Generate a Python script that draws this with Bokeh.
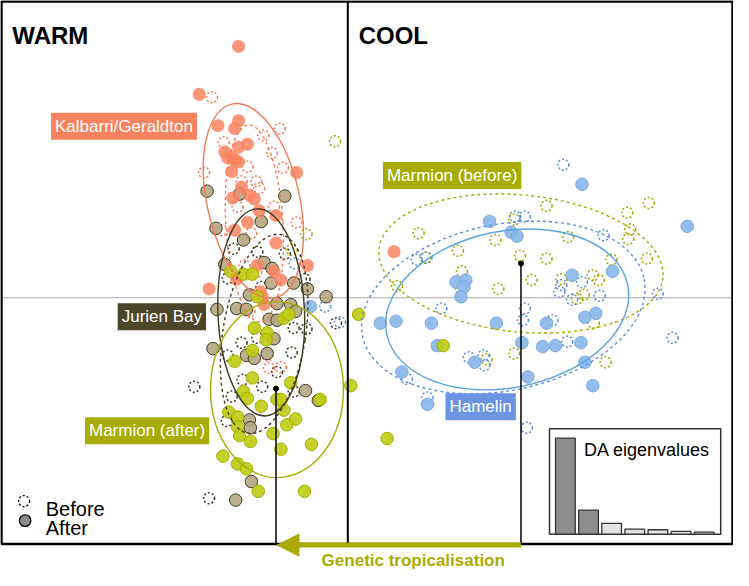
from bokeh.plotting import figure
from bokeh.models import Range1d, Label, Arrow, NormalHead
from bokeh.embed import file_html
from bokeh.resources import INLINE

# ---- DA scores (arbitrary DA units) ----
kal_after_x = [-111,-151,-132,-111,-115,-102,-111,-125,-118,-115,-111,-122,-118,-52,-108,-100,-95,-117,-90,-73,-102,-115,-73,-41,-92,-75,-68,-141,-113,-89,-87,-85,47]
kal_after_y = [257,208,176,181,173,157,154,149,144,141,139,143,129,128,113,105,101,102,89,84,77,69,56,33,33,27,18,9,19,6,1,-7,47]
kal_before_x = [-138,-69,-86,-126,-77,-102,-66,-146,-108,-93,-90,-112,-75,-52,-98,-128,-105,-100,-82,-80,-68,-93]
kal_before_y = [205,173,166,159,148,134,133,128,119,119,112,93,93,77,66,69,33,-14,-59,-72,-71,26]

jur_after_x = [-143,-64,-110,-88,-134,-106,-125,-85,-77,-55,-78,-41,-22,-100,-133,-113,-103,-72,-58,-53,-80,-72,-75,-137,-103,-95,-82,-43,-30,-100,-99,-98,-114]
jur_after_y = [109,104,106,78,71,59,34,36,30,15,15,9,1,3,-12,-11,-12,-6,-7,-14,-22,-23,-42,-52,-59,-62,-57,-95,-105,-125,-133,-188,-207]
jur_before_x = [-116,-92,-64,-44,-88,-122,-55,-42,-108,-92,-57,-122,-72,-107,-87,-156,-118,-55,-141,-12,-123]
jur_before_y = [50,47,45,19,11,20,-31,-32,-46,-41,-56,-59,-76,-84,-91,-91,-101,-96,-205,-26,-126]

mar_after_x = [-119,-106,-97,-92,-65,-60,-95,-82,-83,-97,-115,-97,-58,-106,-102,-28,-72,-68,-88,-65,-121,-112,-112,-110,-99,-76,-53,-62,-68,-37,-127,-112,-103,-91,-44,3,11,97,40]
mar_after_y = [27,24,24,1,-21,-17,-31,-36,-43,-54,-65,-82,-87,-96,-103,-104,-104,-104,-111,-115,-117,-122,-132,-141,-147,-139,-124,-130,-155,-150,-162,-170,-175,-198,-198,-90,-17,-49,-144]
mar_before_x = [-13,-42,-57,202,284,306,287,285,304,72,150,175,202,112,116,187,249,255,79,224,169,268,217,240,233,250,153,169,262,141,50,115]
mar_before_y = [160,65,49,94,87,97,70,60,40,66,59,43,40,48,27,18,23,18,41,62,80,39,19,3,-1,-26,9,-57,-66,-63,12,9]

ham_after_x = [238,144,345,166,172,269,228,110,120,118,115,-38,33,49,85,151,91,129,55,81,177,183,198,211,237,241,252,241,249,202]
ham_after_y = [116,78,73,67,63,27,23,16,18,11,1,-9,-26,-24,-26,-26,-49,-66,-76,-109,-46,-81,-50,-49,-46,-20,-16,-66,-90,-26]
ham_before_x = [219,170,180,260,70,80,217,238,215,228,256,315,180,178,208,223,330,95,123,138,139,60,81,182,-54,-23,-8]
ham_before_y = [136,83,83,64,39,41,13,16,6,-2,2,4,-11,-23,-23,-45,-41,-11,-61,-59,-69,-83,-102,-133,35,-9,-25]

# 95% ellipses: centre, width, height, angle (rad)
ell_names = ["kal_after", "kal_before", "jur_after", "jur_before", "mar_after", "mar_before", "ham_after", "ham_before"]
ell_x = [-96, -95, -88, -85, -72, 176, 162, 158]
ell_y = [99, 76, -15, -37, -94, 35, -12, -10]
ell_w = [94, 58, 88, 84, 135, 290, 250, 292]
ell_h = [203, 202, 212, 206, 180, 140, 160, 170]
ell_a = [0.22, 0.06, 0.04, -0.16, 0.0, -0.1, 0.2, 0.2]

# Marmion centroids (after, before)
cent_x = [-73, 176]
cent_y = [-93, 35]

# DA eigenvalues
eig_idx = [1, 2, 3, 4, 5, 6, 7]
eig_val = [98, 24.4, 11, 5, 4.4, 2.7, 2]

SALMON = "#F9845F"
SALMON_L = "#F47A56"
TAN = "#B5A682"
DARK = "#3E3A20"
LIME = "#BFCC12"
OLIVE = "#A8AC00"
BLUE = "#88B6EA"
BLUE_L = "#5B8DE4"
BLUE_S = "#5AA2E0"
FONT = "Liberation Sans"

p = figure(width=733, height=570, x_range=Range1d(-353, 392), y_range=Range1d(-279, 304),
           output_backend="svg", toolbar_location=None, min_border=0, title=None,
           x_axis_location=None, y_axis_location=None, outline_line_color=None)
p.grid.visible = False
p.background_fill_color = "white"

p.extra_x_ranges = {"eigx": Range1d(-23.43, 8.27)}
p.extra_y_ranges = {"eig": Range1d(-37.3, 545.7)}

# guides
p.segment(x0=[-352], y0=[0], x1=[391], y1=[0], line_color="#aaaaaa", line_width=1)

# before (dashed) points
dash_kw = dict(size=11, marker="circle", fill_color=None, line_width=1.5, line_dash="2 2")
p.scatter(jur_before_x, jur_before_y, line_color="#3a3a2a", **dash_kw)
p.scatter(kal_before_x, kal_before_y, line_color=SALMON_L, **dash_kw)
p.scatter(mar_before_x, mar_before_y, line_color="#A3A600", **dash_kw)
p.scatter(ham_before_x, ham_before_y, line_color=BLUE_L, **dash_kw)

# after (filled) points
p.scatter(jur_after_x, jur_after_y, size=12.5, fill_color=TAN, fill_alpha=0.9, line_color=DARK, line_width=1)
p.scatter(kal_after_x, kal_after_y, size=12.5, fill_color=SALMON, fill_alpha=0.85, line_color=SALMON, line_alpha=0.5)
p.scatter(ham_after_x, ham_after_y, size=12.5, fill_color=BLUE, fill_alpha=0.9, line_color="#7aa9e0", line_width=1)
p.scatter(mar_after_x, mar_after_y, size=12.5, fill_color=LIME, fill_alpha=0.9, line_color="#a3ad00", line_width=1)

# ellipses
ell_col = [SALMON_L, SALMON_L, DARK, DARK, OLIVE, OLIVE, BLUE_S, BLUE_L]
ell_dash = ["solid", "3 3", "solid", "3 3", "solid", "3 3", "solid", "3 3"]
for i in range(len(ell_names)):
    p.ellipse(x=[ell_x[i]], y=[ell_y[i]], width=[ell_w[i]], height=[ell_h[i]], angle=[ell_a[i]],
              fill_color=None, line_color=ell_col[i], line_width=1.4, line_dash=ell_dash[i])

# frame & divider
p.quad(left=[-352], right=[391], top=[303], bottom=[-252], fill_color=None, line_color="black", line_width=2.5)
p.segment(x0=[0], y0=[303], x1=[0], y1=[-252], line_color="black", line_width=2)

# centroid drop lines
p.segment(x0=cent_x, y0=cent_y, x1=cent_x, y1=[-252, -252], line_color="black", line_width=1.5)
p.scatter(cent_x, cent_y, size=5, marker="circle", fill_color="black", line_color="black")

# inset eigenvalues
p.quad(left=[205], right=[379], top=[-134], bottom=[-242], fill_color="white", line_color="#333333", line_width=1.5)
p.vbar(x=eig_idx, width=0.851, top=eig_val, bottom=0, x_range_name="eigx", y_range_name="eig",
       fill_color=["#8E8E8E", "#8E8E8E", "#E3E3E3", "#E3E3E3", "#E3E3E3", "#E3E3E3", "#E3E3E3"],
       line_color="#333333", line_width=1.3)
p.add_layout(Label(x=240, y=-156, text="DA eigenvalues", text_font=FONT, text_font_size="18px",
                   text_color="black", text_baseline="alphabetic"))

# arrow
p.add_layout(Arrow(end=NormalHead(size=22, fill_color=OLIVE, line_color=OLIVE),
                   x_start=176, y_start=-253, x_end=-72, y_end=-253, line_color=OLIVE, line_width=5))
p.add_layout(Label(x=66.5, y=-269, text="Genetic tropicalisation", text_font=FONT, text_font_size="17px",
                   text_font_style="bold", text_color=OLIVE, text_align="center", text_baseline="middle"))

# titles
p.add_layout(Label(x=-341, y=268, text="WARM", text_font=FONT, text_font_size="24px", text_font_style="bold",
                   text_color="black", text_baseline="alphabetic"))
p.add_layout(Label(x=11, y=268, text="COOL", text_font=FONT, text_font_size="24px", text_font_style="bold",
                   text_color="black", text_baseline="alphabetic"))

# group labels
def tag(x, y, txt, bg):
    p.add_layout(Label(x=x, y=y, text=txt, text_font=FONT, text_font_size="17px", text_color="white",
                       text_align="center", text_baseline="middle", background_fill_color=bg,
                       background_fill_alpha=1.0, padding=4))

tag(-227.5, 175.5, "Kalbarri/Geraldton", "#F7825F")
tag(-189, -19.5, "Jurien Bay", "#4C4628")
tag(-204, -136, "Marmion (after)", OLIVE)
tag(106, 125, "Marmion (before)", OLIVE)
tag(135, -111.5, "Hamelin", "#6B95E2")

# legend
p.scatter([-329], [-208], size=11, marker="circle", fill_color=None, line_color="black", line_width=1.3, line_dash="2 2")
p.scatter([-328], [-228], size=11.5, marker="circle", fill_color="#8c8c8c", line_color="black", line_width=1.3)
p.add_layout(Label(x=-307, y=-215.7, text="Before", text_font=FONT, text_font_size="20px", text_color="black",
                   text_baseline="alphabetic"))
p.add_layout(Label(x=-307, y=-235.7, text="After", text_font=FONT, text_font_size="20px", text_color="black",
                   text_baseline="alphabetic"))

open("out.html", "w").write(file_html(p, INLINE))
